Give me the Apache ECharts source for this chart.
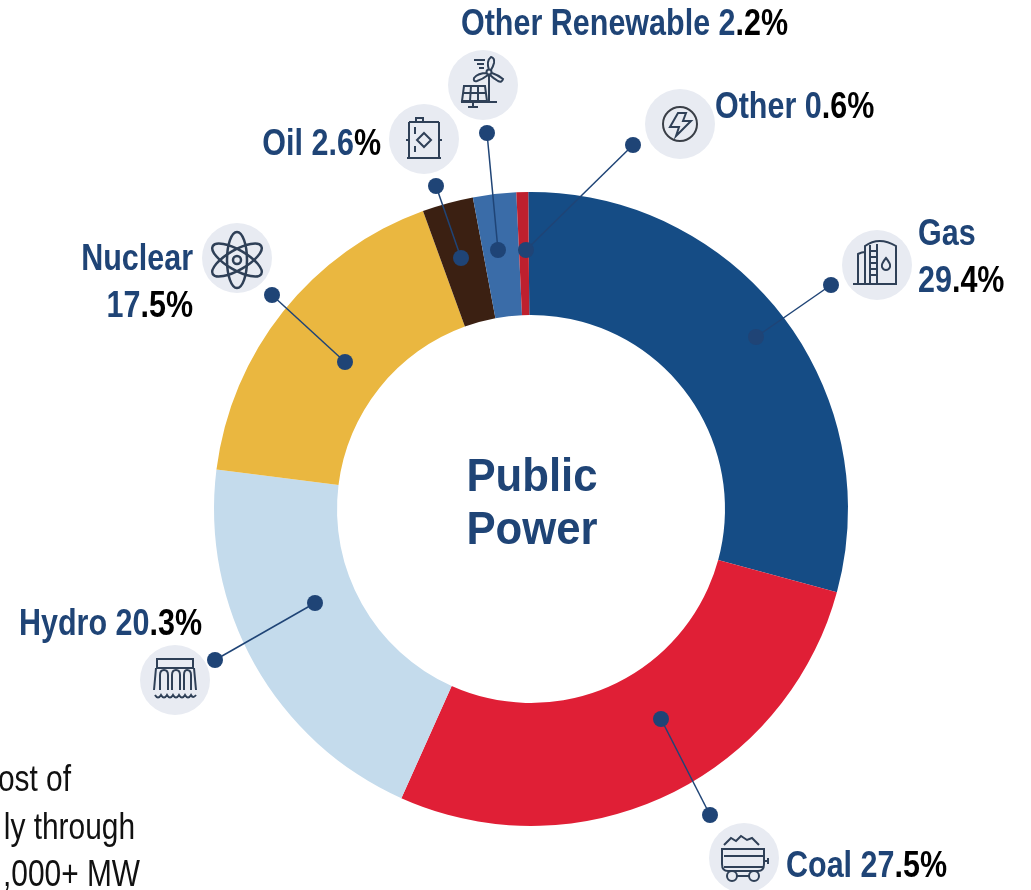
<html>
<head>
    <meta charset="utf-8">
    <title>Public Power</title>
    <script src="https://cdn.jsdelivr.net/npm/echarts@6/dist/echarts.min.js"></script>
    <style>
        html, body { margin: 0; padding: 0; background: #fff; overflow: hidden; }
    </style>
</head>
<body>
    <div id="main" style="width: 1031px;height:890px;"></div>
    <script type="text/javascript">
        // chart data
        const categories = ['Gas', 'Coal', 'Hydro', 'Nuclear', 'Oil', 'Other Renewable', 'Other'];
        const shares = [29.4, 27.5, 20.3, 17.5, 2.6, 2.2, 0.6];
        const sliceColors = ['#154c85', '#e01f36', '#c4dbec', '#eab740', '#3b2012', '#3a6ca8', '#be202e'];

        const BLUE = '#1f4476';
        const ICON = '#2f4057';
        const FONT = '"Liberation Sans", Arial, sans-serif';
        const NARROW = 0.847; // the labels are a condensed face, squeeze Liberation to fit

        // leader lines: [outer x, outer y, inner x, inner y]
        const leaders = [
            [831, 285, 756, 337],
            [710, 815, 661, 719],
            [215, 660, 315, 603],
            [272, 295, 345, 362],
            [436, 186, 461, 258],
            [487, 133, 498, 250],
            [633, 145, 526, 250]
        ];
        // icon badge centres
        const badges = [
            [877, 265], [744, 858], [175, 680], [237, 258], [424, 139], [483, 85], [680, 124]
        ];
        // label anchors: [x, y, align, name on its own line, black tail length]
        const labelPos = [
            [918, 259, 'left', true, 3],
            [786, 867, 'left', false, 3],
            [202, 625, 'right', false, 3],
            [193, 284, 'right', true, 3],
            [381, 145, 'right', false, 1],
            [461, 25, 'left', false, 3],
            [715, 108, 'left', false, 3]
        ];

        // icon line work, drawn around the badge centre
        const iconPaths = [
            // tanks
            'M-24 19L20 19M-19 19L-19 -11Q-15 -13 -12 -13M-12 19L-12 -19Q2 -29 19 -19L19 19M-7 -20L-7 19M0 -21L0 19M-7 -14L0 -14M-7 -8L0 -8M-7 -2L0 -2M-7 4L0 4M-7 10L0 10M9 -7Q4 -1 5 2Q6 5 9 5Q12 5 13 2Q14 -1 9 -7Z',
            // coal cart
            'M-20 -13L-13 -20L-8 -17L-3 -22L3 -18L8 -20L15 -13M-22 -9L20 -9L20 6Q20 13 14 13L-16 13Q-22 13 -22 6ZM-20 -2L20 -2M-20 9L20 9M20 3L24 3M24 0L24 6M-7 18L5 18',
            // dam
            'M-18 -21L18 -21L18 -12L-18 -12ZM-21 10L-19 -12M21 10L19 -12M-15 10L-15 -5Q-15 -10 -11 -10Q-7 -10 -7 -5L-7 10M-3 10L-3 -5Q-3 -10 1 -10Q5 -10 5 -5L5 10M9 10L9 -5Q9 -10 12 -10Q16 -10 16 -5L16 10M-20 15Q-17 20 -14 15Q-11 20 -8 15Q-5 20 -2 15Q1 20 4 15Q7 20 10 15Q13 20 16 15Q18 19 21 15',
            '',
            // oil can
            'M-15 -17L15 -17M-15 -17L-15 19M15 -17L15 19M-17 19L17 19M-18 1L-15 1M15 1L18 1M-8 -17L-8 -21L-1 -21L-1 -17M0 -6L7 1L0 8L-7 1ZM-9 -12L-9 -5M-9 7L-9 13',
            // wind and solar
            'M6 -10L6 17M-22 17L14 17M-10 17L-10 22M-15 22L-5 22M-19 1L2 1L4 16L-21 16ZM-20 8L3 8M-12 1L-13 16M-5 1L-5 16M6 -15Q3 -24 8 -28Q12 -27 11 -22Q10 -18 8 -15M4 -12Q-5 -12 -9 -7Q-10 -3 -6 -4Q0 -6 5 -10M9 -12Q15 -10 20 -6Q19 -2 15 -4Q10 -7 7 -10M3.5 -13A2.5 2.5 0 1 0 8.5 -13A2.5 2.5 0 1 0 3.5 -13M-9 -25L2 -25M-6 -21L1 -21M-4 -17L1 -17',
            // bolt in circle
            'M-2 -11L6 -11L3 -3L11 -3L-4 12L-1 3L-10 3Z'
        ];

        iconPaths.forEach(function (d, i) {
            if (d) {
                echarts.graphic.registerShape('icon' + i, echarts.graphic.extendPath(d, {}));
            }
        });

        function labelRich(i) {
            const p = labelPos[i];
            const parts = shares[i].toFixed(1) + '%';
            const cut = parts.length - p[4];
            const blue = parts.slice(0, cut), black = parts.slice(cut);
            if (p[3]) {
                return '{b|' + categories[i] + '}\n{b|' + blue + '}{k|' + black + '}';
            }
            return '{b|' + categories[i] + ' ' + blue + '}{k|' + black + '}';
        }

        const graphics = [];

        categories.forEach(function (name, i) {
            const l = leaders[i], c = badges[i], p = labelPos[i];
            graphics.push({
                type: 'line', z: 10,
                shape: { x1: l[0], y1: l[1], x2: l[2], y2: l[3] },
                style: { stroke: BLUE, lineWidth: 1.5 }
            });
            graphics.push({ type: 'circle', z: 11, shape: { cx: l[0], cy: l[1], r: 8 }, style: { fill: BLUE } });
            graphics.push({ type: 'circle', z: 11, shape: { cx: l[2], cy: l[3], r: 8 }, style: { fill: BLUE } });
            graphics.push({ type: 'circle', z: 5, shape: { cx: c[0], cy: c[1], r: 35 }, style: { fill: '#e8ebf2' } });
            if (iconPaths[i]) {
                graphics.push({
                    type: 'icon' + i, z: 6, x: c[0], y: c[1],
                    style: { fill: null, stroke: ICON, lineWidth: 2 }
                });
            }
            graphics.push({
                type: 'text', z: 12, x: p[0], y: p[1], scaleX: NARROW,
                style: {
                    text: labelRich(i),
                    align: p[2],
                    verticalAlign: 'middle',
                    rich: {
                        b: { fill: BLUE, font: 'bold 36px ' + FONT, lineHeight: 47 },
                        k: { fill: '#000', font: 'bold 36px ' + FONT, lineHeight: 47 }
                    }
                }
            });
        });

        function atom(rotation) {
            return {
                type: 'ellipse', z: 6, x: 237, y: 260, rotation: rotation,
                shape: { cx: 0, cy: 0, rx: 28, ry: 10 },
                style: { fill: null, stroke: ICON, lineWidth: 2.5 }
            };
        }

        function bodyLine(text, x, y) {
            return {
                type: 'text', z: 12, x: x, y: y, scaleX: 0.83,
                style: { text: text, align: 'right', verticalAlign: 'middle', fill: '#111', font: '36px ' + FONT }
            };
        }

        var myChart = echarts.init(document.getElementById('main'));

        let option = {
            animation: false,
            series: [
                {
                    type: 'pie',
                    center: [531, 509],
                    radius: [194, 317],
                    startAngle: 90.5,
                    clockwise: true,
                    silent: true,
                    label: { show: false },
                    labelLine: { show: false },
                    data: categories.map(function (name, i) {
                        return { name: name, value: shares[i], itemStyle: { color: sliceColors[i] } };
                    })
                }
            ],
            graphic: graphics.concat([
                // nuclear atom
                atom(Math.PI / 2),
                atom(Math.PI / 6),
                atom(-Math.PI / 6),
                { type: 'circle', z: 6, shape: { cx: 237, cy: 260, r: 4 }, style: { fill: null, stroke: ICON, lineWidth: 2.5 } },
                // ring around the bolt
                { type: 'circle', z: 6, shape: { cx: 680, cy: 124, r: 17 }, style: { fill: null, stroke: '#3a3f47', lineWidth: 2 } },
                // coal cart wheels
                { type: 'circle', z: 6, shape: { cx: 732, cy: 876, r: 5 }, style: { fill: '#e8ebf2', stroke: ICON, lineWidth: 2 } },
                { type: 'circle', z: 6, shape: { cx: 754, cy: 876, r: 5 }, style: { fill: '#e8ebf2', stroke: ICON, lineWidth: 2 } },
                // centre title
                {
                    type: 'text', z: 12, x: 532, y: 505, scaleX: 0.93,
                    style: {
                        text: 'Public\nPower', align: 'center', verticalAlign: 'middle',
                        fill: BLUE, font: 'bold 47px ' + FONT, lineHeight: 53
                    }
                },
                // body text cut off by the left edge
                bodyLine('ost of', 71, 781),
                bodyLine('ly through', 135, 829),
                bodyLine(',000+ MW', 140, 876)
            ])
        };

        myChart.setOption(option);
    </script>
</body>
</html>
